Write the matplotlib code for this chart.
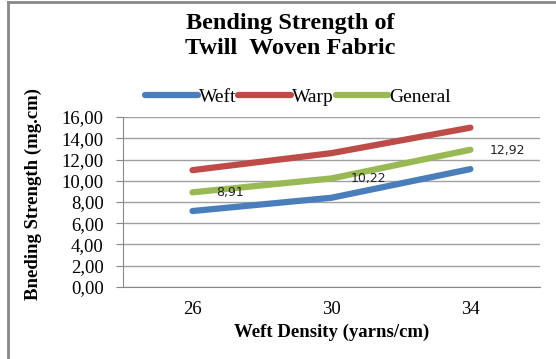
import numpy as np
import matplotlib.pyplot as plt
from matplotlib.lines import Line2D

# Data
kategori = ['26', '30', '34']
weft = [7.15, 8.4, 11.1]
warp = [11.0, 12.6, 15.0]
general = [8.91, 10.22, 12.92]
label_general = ['8,91', '10,22', '12,92']
yticks = np.arange(0, 17, 2)

serif = 'Liberation Serif'

fig = plt.figure(figsize=(5.56, 3.59), dpi=100)
ax = fig.add_axes([0.2212, 0.2006, 0.7498, 0.4734])

x = np.arange(len(kategori))
ax.plot(x, weft, color='#4a7ebb', lw=4.5, solid_capstyle='round', label='Weft')
ax.plot(x, warp, color='#be4b48', lw=4.5, solid_capstyle='round', label='Warp')
ax.plot(x, general, color='#98b954', lw=4.5, solid_capstyle='round', label='General')

# Label data General (di kanan titik)
for xi, yi, txt in zip(x, general, label_general):
    ax.text(xi + 0.27, yi - 0.03, txt, fontsize=9, family='DejaVu Sans',
            ha='center', va='center', color='#222222')

ax.set_xlim(-0.5, 2.5)
ax.set_ylim(0, 16)
ax.set_xticks(x)
ax.set_xticklabels(kategori, family=serif, fontsize=13.5)
ax.set_yticks(yticks)
ax.set_yticklabels([f'{v:.2f}'.replace('.', ',') for v in yticks], family=serif, fontsize=13.5)
ax.tick_params(axis='x', length=0, pad=10)
ax.tick_params(axis='y', length=5, color='#888888', pad=9)
ax.grid(axis='y', color='#a0a0a0', lw=1)
ax.set_axisbelow(True)
for s in ['top', 'right']:
    ax.spines[s].set_visible(False)
ax.spines['left'].set_color('#888888')
ax.spines['bottom'].set_color('#888888')

ax.set_xlabel('Weft Density (yarns/cm)', family=serif, fontweight='bold', fontsize=13.5, labelpad=4)
ax.set_ylabel('Bneding Strength (mg.cm)', family=serif, fontweight='bold', fontsize=13.5)
ax.yaxis.set_label_coords(-0.195, 0.55)

fig.text(0.522, 0.9, 'Bending Strength of\nTwill  Woven Fabric', family=serif,
         fontweight='bold', fontsize=17.5, ha='center', va='center', linespacing=1.3)

ax.legend(loc='center', bbox_to_anchor=(0.42, 1.115), ncol=3, frameon=False,
          prop={'family': serif, 'size': 14}, handlelength=2.7, handletextpad=0.05,
          columnspacing=0.1, borderaxespad=0)

# Bingkai
fig.add_artist(Line2D([8 / 556, 8 / 556], [0, 1 - 2 / 359], transform=fig.transFigure,
                      color='#888888', lw=2))
fig.add_artist(Line2D([8 / 556, 1], [1 - 2 / 359, 1 - 2 / 359], transform=fig.transFigure,
                      color='#888888', lw=2))

plt.savefig('out.png', dpi=100)
